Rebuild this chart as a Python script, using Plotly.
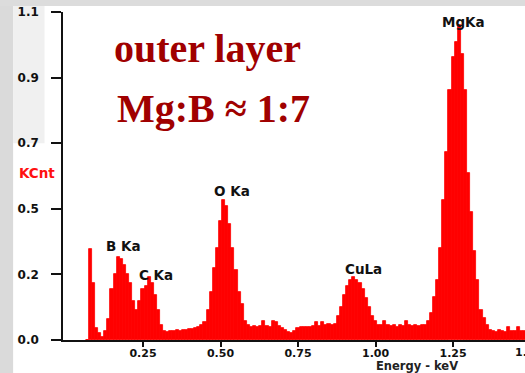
import plotly.graph_objects as go

# EDS spectrum of the outer layer: channel energy (keV) and counts (KCnt)
energy_kev = [
    0.07, 0.08, 0.09, 0.10, 0.11, 0.12, 0.13, 0.14, 0.15, 0.16,
    0.17, 0.18, 0.19, 0.20, 0.21, 0.22, 0.23, 0.24, 0.25, 0.26,
    0.27, 0.28, 0.29, 0.30, 0.31, 0.32, 0.33, 0.34, 0.35, 0.36,
    0.37, 0.38, 0.39, 0.40, 0.41, 0.42, 0.43, 0.44, 0.45, 0.46,
    0.47, 0.48, 0.49, 0.50, 0.51, 0.52, 0.53, 0.54, 0.55, 0.56,
    0.57, 0.58, 0.59, 0.60, 0.61, 0.62, 0.63, 0.64, 0.65, 0.66,
    0.67, 0.68, 0.69, 0.70, 0.71, 0.72, 0.73, 0.74, 0.75, 0.76,
    0.77, 0.78, 0.79, 0.80, 0.81, 0.82, 0.83, 0.84, 0.85, 0.86,
    0.87, 0.88, 0.89, 0.90, 0.91, 0.92, 0.93, 0.94, 0.95, 0.96,
    0.97, 0.98, 0.99, 1.00, 1.01, 1.02, 1.03, 1.04, 1.05, 1.06,
    1.07, 1.08, 1.09, 1.10, 1.11, 1.12, 1.13, 1.14, 1.15, 1.16,
    1.17, 1.18, 1.19, 1.20, 1.21, 1.22, 1.23, 1.24, 1.25, 1.26,
    1.27, 1.28, 1.29, 1.30, 1.31, 1.32, 1.33, 1.34, 1.35, 1.36,
    1.37, 1.38, 1.39, 1.40, 1.41, 1.42, 1.43, 1.44, 1.45, 1.46,
    1.47, 1.48,
]
counts_kcnt = [
    0.0, 0.305, 0.19, 0.04, 0.025, 0.01, 0.03, 0.07, 0.17, 0.22,
    0.28, 0.27, 0.25, 0.22, 0.19, 0.13, 0.10, 0.13, 0.17, 0.18,
    0.21, 0.19, 0.15, 0.10, 0.05, 0.03, 0.027, 0.03, 0.03, 0.032,
    0.03, 0.035, 0.033, 0.036, 0.038, 0.04, 0.045, 0.05, 0.06, 0.10,
    0.16, 0.24, 0.31, 0.40, 0.47, 0.45, 0.39, 0.31, 0.235, 0.16,
    0.12, 0.065, 0.05, 0.045, 0.046, 0.044, 0.048, 0.065, 0.047, 0.045,
    0.063, 0.06, 0.046, 0.04, 0.035, 0.028, 0.022, 0.03, 0.04, 0.042,
    0.044, 0.045, 0.043, 0.047, 0.06, 0.048, 0.06, 0.05, 0.052, 0.05,
    0.055, 0.08, 0.11, 0.15, 0.18, 0.20, 0.21, 0.20, 0.19, 0.17,
    0.14, 0.11, 0.08, 0.065, 0.05, 0.05, 0.065, 0.05, 0.048, 0.05,
    0.045, 0.05, 0.048, 0.065, 0.05, 0.046, 0.05, 0.048, 0.05, 0.05,
    0.065, 0.09, 0.145, 0.20, 0.31, 0.47, 0.63, 0.84, 0.95, 1.0,
    1.057, 0.96, 0.84, 0.56, 0.43, 0.30, 0.20, 0.10, 0.075, 0.05,
    0.035, 0.03, 0.028, 0.032, 0.03, 0.027, 0.045, 0.03, 0.03, 0.045,
    0.03, 0.03,
]
CHANNEL_WIDTH_KEV = 0.01

# Peak identifications: label, energy (keV), label height (KCnt)
peak_labels = ["B Ka", "C Ka", "O Ka", "CuLa", "MgKa"]
peak_label_x = [0.187, 0.292, 0.537, 0.96, 1.285]
peak_label_y = [0.315, 0.218, 0.50, 0.238, 1.067]

# Y axis: evenly spaced ticks with the detector's own labels
y_tick_vals = [0.0, 0.22, 0.44, 0.66, 0.88, 1.1]
y_tick_text = ["0.0", "0.2", "0.5", "0.7", "0.9", "1.1"]
x_tick_vals = [0.25, 0.50, 0.75, 1.00, 1.25]

RED = "#ff0000"
DARK_RED = "#a00000"
LABEL_FONT = dict(family="DejaVu Sans", size=11, color="#111111", weight="bold")
Y_LABEL_FONT = dict(family="DejaVu Sans", size=12, color="#111111", weight="bold")

fig = go.Figure()
fig.add_trace(go.Bar(
    x=energy_kev, y=counts_kcnt, width=CHANNEL_WIDTH_KEV,
    marker=dict(color=RED, line=dict(color=RED, width=0.8)),
    hoverinfo="x+y",
))

annotations = []
for text, px, py in zip(peak_labels, peak_label_x, peak_label_y):
    annotations.append(dict(
        x=px, y=py, xref="x", yref="y", text=text, showarrow=False,
        font=dict(family="DejaVu Sans", size=13.5, color="#111111", weight="bold"),
        xanchor="center", yanchor="middle",
    ))

# Last tick label sits just past the right edge of the plot
annotations.append(dict(
    x=1.0065, y=0, xref="paper", yref="paper", text="1.50", showarrow=False,
    font=LABEL_FONT, xanchor="center", yanchor="top", yshift=-4,
))
annotations.append(dict(
    x=1.134, y=-0.0785, xref="x", yref="paper", text="Energy - keV",
    showarrow=False, font=dict(family="DejaVu Sans", size=11.5, color="#222222", weight="bold"),
    xanchor="center", yanchor="middle",
))
annotations.append(dict(
    x=-0.1, y=0.509, xref="paper", yref="paper", text="KCnt",
    showarrow=False, xanchor="left", yanchor="middle",
    font=dict(family="DejaVu Sans", size=13.5, color="#ff1010", weight="bold"),
))
annotations.append(dict(
    x=0.312, y=0.888, xref="paper", yref="paper", text="outer layer",
    showarrow=False, xanchor="center", yanchor="middle",
    font=dict(family="Liberation Serif", size=40, color=DARK_RED, weight="bold"),
))
annotations.append(dict(
    x=0.326, y=0.707, xref="paper", yref="paper", text="Mg:B ≈ 1:7",
    showarrow=False, xanchor="center", yanchor="middle",
    font=dict(family="Liberation Serif", size=40, color=DARK_RED, weight="bold"),
))

# Grey mottled border at the far left and top of the slide
shapes = [
    dict(type="rect", xref="paper", yref="paper", x0=-0.14, x1=-0.108,
         y0=-0.11, y1=1.04, fillcolor="#dadada", line_width=0, layer="below"),
    dict(type="rect", xref="paper", yref="paper", x0=-0.108, x1=-0.04,
         y0=0.6, y1=1.04, fillcolor="#f0f0f0", line_width=0, layer="below"),
    dict(type="rect", xref="paper", yref="paper", x0=-0.14, x1=1.0,
         y0=1.018, y1=1.04, fillcolor="#dcdcdc", line_width=0, layer="below"),
]

fig.update_layout(
    width=525, height=373,
    margin=dict(l=63, r=0, t=12, b=33),
    paper_bgcolor="white", plot_bgcolor="white",
    showlegend=False, bargap=0,
    annotations=annotations,
    shapes=shapes,
    xaxis=dict(
        range=[-0.008, 1.482], tickvals=x_tick_vals, tickformat=".2f",
        showline=True, linecolor="#111111", linewidth=1.5,
        ticks="outside", ticklen=5, tickwidth=1.5, tickcolor="#111111",
        showgrid=False, zeroline=False, tickfont=LABEL_FONT,
        ticklabelstandoff=-3,
    ),
    yaxis=dict(
        range=[0, 1.1], tickvals=y_tick_vals, ticktext=y_tick_text,
        showline=True, linecolor="#111111", linewidth=1.5,
        ticks="outside", ticklen=10, tickwidth=1.5, tickcolor="#111111",
        showgrid=False, zeroline=False, tickfont=Y_LABEL_FONT,
        ticklabelstandoff=10,
    ),
)

fig.write_html("out.html")
